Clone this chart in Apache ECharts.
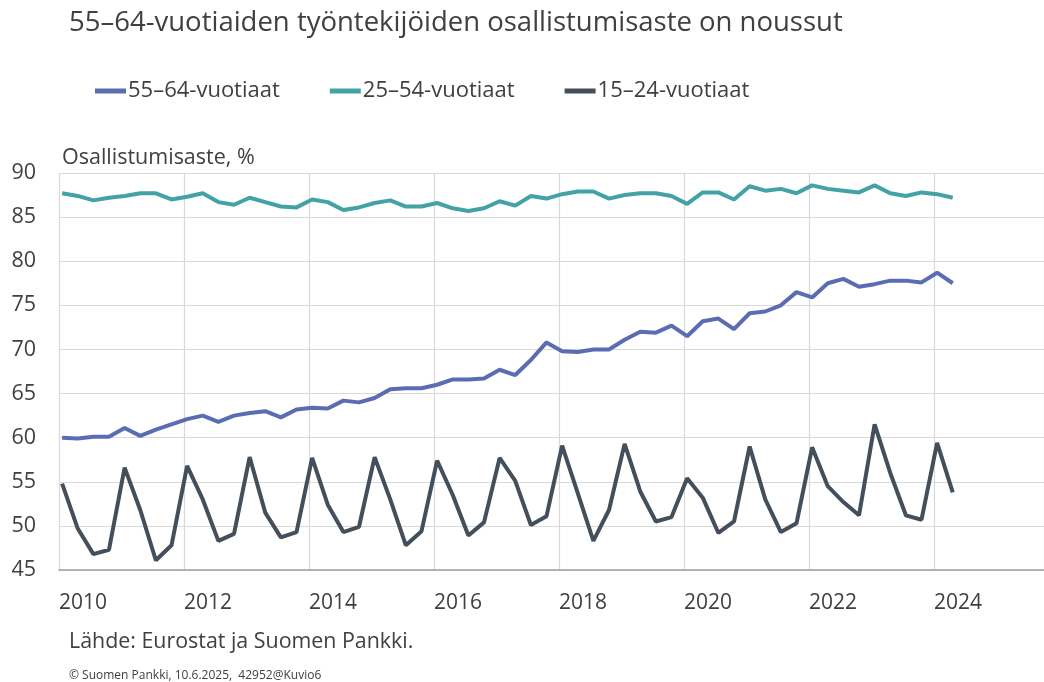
<!DOCTYPE html>
<html>
<head>
<meta charset="utf-8">
<title>Osallistumisaste</title>
<script src="https://cdn.jsdelivr.net/npm/echarts@6/dist/echarts.min.js"></script>
<style>
  html, body { margin: 0; padding: 0; background: #fff; }
  #chart { width: 1044px; height: 682px; }
</style>
</head>
<body>
<div id="chart"></div>
<script>
// quarters 2010Q1 .. 2024Q2
const quarters = []
for (let y = 2010; y <= 2024; y++) {
  for (let q = 1; q <= 4; q++) {
    if (y === 2024 && q > 2) break
    quarters.push(y + 'Q' + q)
  }
}

const seriesNames = ['55–64-vuotiaat', '25–54-vuotiaat', '15–24-vuotiaat']
const seriesColors = ['#5a6db3', '#43a2a6', '#444f5c']

const age55to64 = [
  60.0, 59.9, 60.1, 60.1, 61.1, 60.2, 60.9, 61.5, 62.1, 62.5,
  61.8, 62.5, 62.8, 63.0, 62.3, 63.2, 63.4, 63.3, 64.2, 64.0,
  64.5, 65.5, 65.6, 65.6, 66.0, 66.6, 66.6, 66.7, 67.7, 67.1,
  68.8, 70.8, 69.8, 69.7, 70.0, 70.0, 71.1, 72.0, 71.9, 72.7,
  71.5, 73.2, 73.5, 72.3, 74.1, 74.3, 75.0, 76.5, 75.9, 77.5,
  78.0, 77.1, 77.4, 77.8, 77.8, 77.6, 78.7, 77.5
]
const age25to54 = [
  87.7, 87.4, 86.9, 87.2, 87.4, 87.7, 87.7, 87.0, 87.3, 87.7,
  86.7, 86.4, 87.2, 86.7, 86.2, 86.1, 87.0, 86.7, 85.8, 86.1,
  86.6, 86.9, 86.2, 86.2, 86.6, 86.0, 85.7, 86.0, 86.8, 86.3,
  87.4, 87.1, 87.6, 87.9, 87.9, 87.1, 87.5, 87.7, 87.7, 87.4,
  86.5, 87.8, 87.8, 87.0, 88.5, 88.0, 88.2, 87.7, 88.6, 88.2,
  88.0, 87.8, 88.6, 87.7, 87.4, 87.8, 87.6, 87.2
]
const age15to24 = [
  54.8, 49.7, 46.8, 47.3, 56.6, 51.8, 46.1, 47.8, 56.8, 53.0,
  48.3, 49.1, 57.8, 51.5, 48.7, 49.3, 57.7, 52.4, 49.3, 49.9,
  57.8, 53.0, 47.8, 49.4, 57.4, 53.5, 48.9, 50.4, 57.7, 55.1,
  50.1, 51.1, 59.1, 53.7, 48.3, 51.8, 59.3, 53.9, 50.5, 51.0,
  55.4, 53.2, 49.2, 50.5, 59.0, 53.0, 49.3, 50.3, 58.9, 54.5,
  52.7, 51.2, 61.5, 56.0, 51.2, 50.7, 59.4, 53.8
]

const yTicks = [45, 50, 55, 60, 65, 70, 75, 80, 85, 90]
const xTickYears = [2010, 2012, 2014, 2016, 2018, 2020, 2022, 2024]

const textColor = '#404040'
const fontFamily = '"Open Sans", "Noto Sans", sans-serif'

// quarter label -> position on the year axis
function quarterPos(label) {
  const y = parseInt(label.slice(0, 4), 10)
  const q = parseInt(label.slice(5), 10)
  return y + (q - 1) / 4 + 0.05
}

function toPairs(values) {
  return values.map((v, i) => [quarterPos(quarters[i]), v])
}

const chart = echarts.init(document.getElementById('chart'), null, { renderer: 'canvas' })

chart.setOption({
  backgroundColor: '#ffffff',
  animation: false,
  textStyle: { fontFamily: fontFamily },
  title: [
    {
      text: '55–64-vuotiaiden työntekijöiden osallistumisaste on noussut',
      left: 64,
      top: 4,
      textStyle: { color: textColor, fontSize: 27.5, fontWeight: 'normal', fontFamily: fontFamily }
    },
    {
      text: 'Osallistumisaste, %',
      left: 57,
      top: 142,
      textStyle: { color: textColor, fontSize: 21.5, fontWeight: 'normal', fontFamily: fontFamily }
    },
    {
      text: 'Lähde: Eurostat ja Suomen Pankki.',
      left: 64,
      top: 626,
      textStyle: { color: textColor, fontSize: 21.4, fontWeight: 'normal', fontFamily: fontFamily }
    },
    {
      text: '© Suomen Pankki, 10.6.2025,  42952@Kuvio6',
      left: 64,
      top: 665,
      textStyle: { color: textColor, fontSize: 12, fontWeight: 'normal', fontFamily: fontFamily }
    }
  ],
  legend: {
    left: 90,
    top: 75,
    itemWidth: 31,
    itemHeight: 5,
    itemGap: 50,
    icon: 'rect',
    data: seriesNames,
    textStyle: { color: textColor, fontSize: 22, fontFamily: fontFamily, padding: [0, 0, 0, -3] }
  },
  grid: {
    left: 59,
    right: 0,
    top: 173,
    bottom: 112,
    containLabel: false
  },
  xAxis: {
    type: 'value',
    min: 2010,
    max: 2010 + 985 / 62.5,
    interval: 2,
    axisLine: { show: true, lineStyle: { color: '#a0a0a0', width: 1.5 } },
    axisTick: { show: false },
    splitLine: { show: true, lineStyle: { color: '#d9d9d9', width: 1.2 } },
    axisLabel: {
      color: textColor,
      fontSize: 21,
      fontFamily: fontFamily,
      align: 'left',
      margin: 23,
      showMaxLabel: false,
      formatter: function (v) {
        return xTickYears.indexOf(Math.round(v * 100) / 100) >= 0 ? String(v) : ''
      }
    }
  },
  yAxis: {
    type: 'value',
    min: yTicks[0],
    max: yTicks[yTicks.length - 1],
    interval: 5,
    axisLine: { show: false },
    axisTick: { show: false },
    splitLine: { show: true, lineStyle: { color: '#d9d9d9', width: 1.2 } },
    axisLabel: { color: textColor, fontSize: 21.5, fontFamily: fontFamily, margin: 23 }
  },
  series: [
    {
      name: seriesNames[0],
      type: 'line',
      data: toPairs(age55to64),
      showSymbol: false,
      color: seriesColors[0],
      lineStyle: { width: 4, color: seriesColors[0] }
    },
    {
      name: seriesNames[1],
      type: 'line',
      data: toPairs(age25to54),
      showSymbol: false,
      color: seriesColors[1],
      lineStyle: { width: 4, color: seriesColors[1] }
    },
    {
      name: seriesNames[2],
      type: 'line',
      data: toPairs(age15to24),
      showSymbol: false,
      color: seriesColors[2],
      lineStyle: { width: 4, color: seriesColors[2] }
    }
  ]
})
</script>
</body>
</html>
